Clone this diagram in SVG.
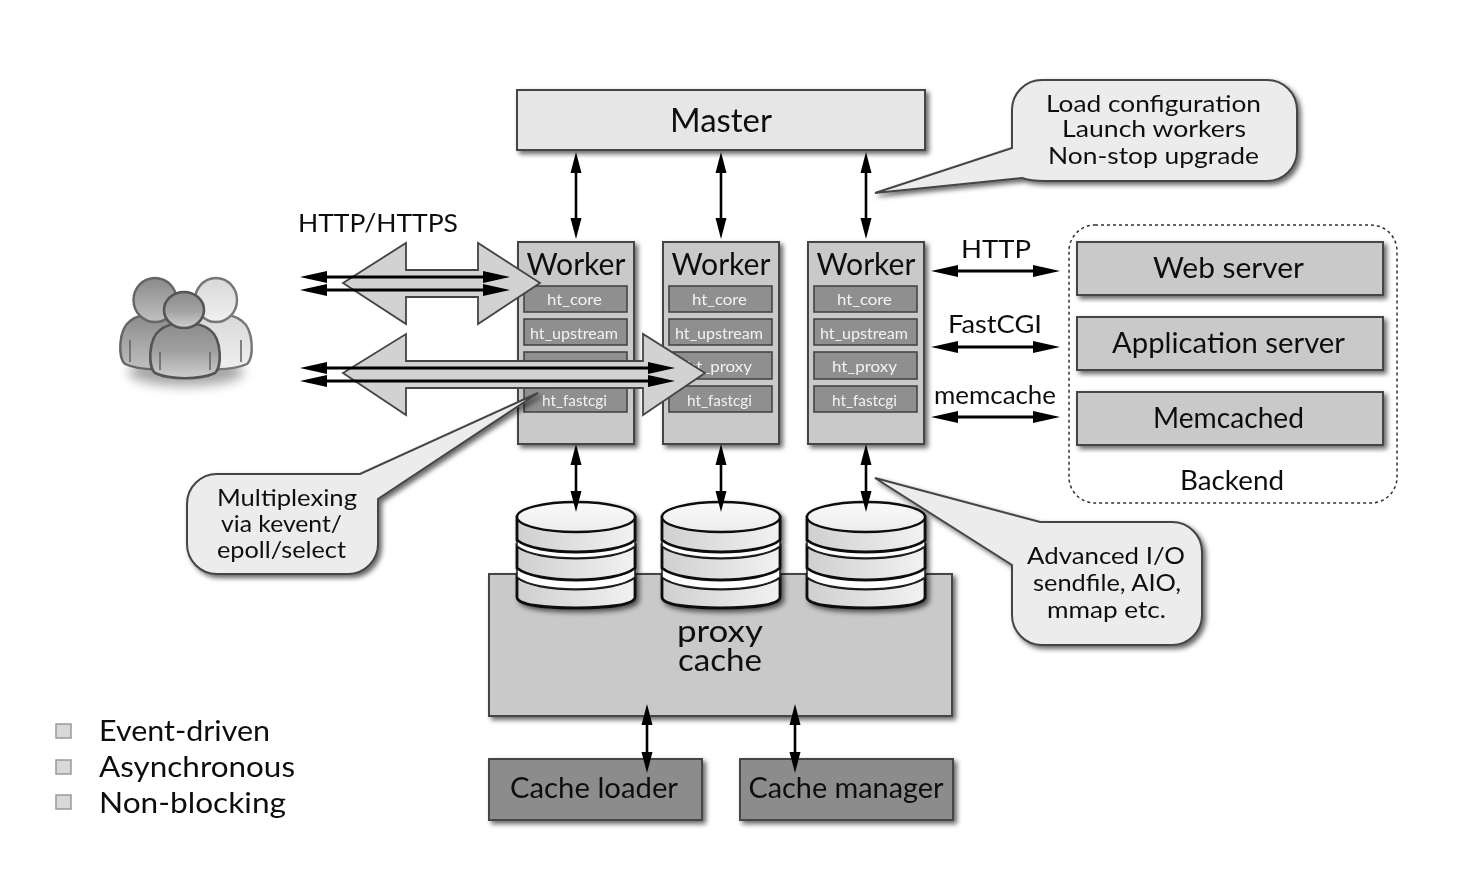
<svg xmlns="http://www.w3.org/2000/svg" width="1481" height="886" viewBox="0 0 1481 886">
<style>
text{font-family:"Lato","Open Sans","Liberation Sans",sans-serif;fill:#111;text-anchor:middle}
.box{stroke:#444;stroke-width:2}
.sh{filter:url(#ds)}
.light{fill:#e6e6e6}.mid{fill:#c9c9c9}.dark{fill:#8c8c8c}
.mod{fill:#8f8f8f;stroke:#444;stroke-width:1.6}
.modt{fill:#f2f2f2;font-size:15.5px}
.wt{font-size:30px}
.be{font-size:28px}
.call{fill:#ececec;stroke:#444;stroke-width:2;filter:url(#ds)}
.ct{font-size:23.5px}
.lab{font-size:25px}
.ar{stroke:#000;stroke-width:2.6;fill:none;marker-start:url(#h);marker-end:url(#h)}
.thin{stroke:#000;stroke-width:3;fill:none;marker-start:url(#h2);marker-end:url(#h2)}
.big{fill:#d2d2d2;stroke:#444;stroke-width:1.8}
.leg{fill:#d8d8d8;stroke:#999;stroke-width:1.5}
.lt{font-size:29px;text-anchor:start}
.disk{fill:url(#dg);stroke:#111;stroke-width:2.8}
.gap{fill:#fff;stroke:#222;stroke-width:1.6}
.crease{fill:none;stroke:#666;stroke-width:1.6}
</style>
<defs>
<filter id="ds" x="-10%" y="-10%" width="125%" height="125%"><feDropShadow dx="3" dy="3" stdDeviation="2.5" flood-color="#000" flood-opacity=".6"/></filter>
<filter id="soft" x="0" y="0" width="1481" height="886" filterUnits="userSpaceOnUse"><feGaussianBlur stdDeviation=".6"/></filter>
<filter id="bl" x="-30%" y="-60%" width="160%" height="220%"><feGaussianBlur stdDeviation="6"/></filter>
<marker id="h" markerUnits="userSpaceOnUse" markerWidth="22" markerHeight="12" refX="0" refY="6" orient="auto-start-reverse"><path d="M0,0.500 L21,6 L0,11.500Z"/></marker>
<marker id="h2" markerUnits="userSpaceOnUse" markerWidth="30" markerHeight="14" refX="0" refY="7" orient="auto-start-reverse"><path d="M0,1 L27,7 L0,13Z"/></marker>
<linearGradient id="dg"><stop offset="0" stop-color="#cfcfcf"/><stop offset="1" stop-color="#f2f2f2"/></linearGradient>
<linearGradient id="dt" x1="0" x2="0" y1="0" y2="1"><stop offset="0" stop-color="#fafafa"/><stop offset="1" stop-color="#ececec"/></linearGradient>
<linearGradient id="pa" x1="0" x2="0" y1="0" y2="1"><stop offset="0" stop-color="#8a8a8a"/><stop offset="1" stop-color="#c0c0c0"/></linearGradient>
<linearGradient id="pb" x1="0" x2="0" y1="0" y2="1"><stop offset="0" stop-color="#8c8c8c"/><stop offset=".5" stop-color="#a0a0a0"/><stop offset="1" stop-color="#cfcfcf"/></linearGradient>
<linearGradient id="pc" x1="0" x2="0" y1="0" y2="1"><stop offset="0" stop-color="#d8d8d8"/><stop offset="1" stop-color="#f0f0f0"/></linearGradient>
<g id="disk">
<path class="disk" d="M-59,-24 C-40,-8 40,-8 59,-24 V-4 C59,4 30,7 0,7 C-30,7 -59,4 -59,-4Z"/>
<path class="gap" d="M-59,-33 C-40,-17 40,-17 59,-33 V-24 C40,-8 -40,-8 -59,-24Z"/>
<path class="disk" d="M-59,-55 C-40,-39 40,-39 59,-55 V-33 C40,-17 -40,-17 -59,-33Z"/>
<path class="gap" d="M-59,-61 C-40,-45 40,-45 59,-61 V-55 C40,-39 -40,-39 -59,-55Z"/>
<path class="disk" d="M-59,-84 H59 V-61 C40,-45 -40,-45 -59,-61Z"/>
<ellipse cx="0" cy="-84" rx="59" ry="15" fill="url(#dt)" stroke="#111" stroke-width="2.4"/>
</g>
<path id="body" d="M-30,66 C-37,60 -37,32 -25,23 C-15,14 15,14 25,23 C37,32 37,60 30,66 C15,73 -15,73 -30,66Z"/>
</defs>
<rect width="1481" height="886" fill="#fff"/>
<g filter="url(#soft)">
<g id="users">
<ellipse cx="186" cy="372" rx="58" ry="14" fill="#000" opacity=".35" filter="url(#bl)"/>
<g id="user-right" stroke="#777" stroke-width="2.4" fill="url(#pc)"><use href="#body" x="217" y="298"/><ellipse cx="216" cy="300" rx="21" ry="22"/><path class="crease" d="M241,340 V362"/></g>
<g id="user-left" stroke="#666" stroke-width="2.4" fill="url(#pa)"><use href="#body" x="155" y="298"/><ellipse cx="155" cy="300" rx="21.500" ry="22"/><path class="crease" d="M130,340 V362"/></g>
<g id="user-front" stroke="#555" stroke-width="2.600" fill="url(#pb)"><use href="#body" x="185" y="307"/><ellipse cx="184" cy="310" rx="20" ry="18"/><path class="crease" d="M160,352 V370M210,352 V370"/></g>
</g>
<g id="master"><rect class="box light sh" x="517" y="90" width="408" height="60"/><text x="721" y="132" font-size="33" textLength="102" lengthAdjust="spacingAndGlyphs">Master</text></g>
<g id="worker1"><rect class="box mid sh" x="518" y="242" width="116" height="202"/><text class="wt" x="576" y="275" textLength="99" lengthAdjust="spacingAndGlyphs">Worker</text>
<rect class="mod" x="524" y="286" width="103" height="26"/><text class="modt" x="574.500" y="305" textLength="55" lengthAdjust="spacingAndGlyphs">ht_core</text>
<rect class="mod" x="524" y="319" width="103" height="26"/><text class="modt" x="574" y="339" textLength="88" lengthAdjust="spacingAndGlyphs">ht_upstream</text>
<rect class="mod" x="524" y="352" width="103" height="27"/><text class="modt" x="575" y="372" textLength="65" lengthAdjust="spacingAndGlyphs">ht_proxy</text>
<rect class="mod" x="524" y="386" width="103" height="26"/><text class="modt" x="574.500" y="406" textLength="65" lengthAdjust="spacingAndGlyphs">ht_fastcgi</text></g>
<g id="worker2"><rect class="box mid sh" x="663" y="242" width="116" height="202"/><text class="wt" x="721" y="275" textLength="99" lengthAdjust="spacingAndGlyphs">Worker</text>
<rect class="mod" x="669" y="286" width="103" height="26"/><text class="modt" x="719.500" y="305" textLength="55" lengthAdjust="spacingAndGlyphs">ht_core</text>
<rect class="mod" x="669" y="319" width="103" height="26"/><text class="modt" x="719" y="339" textLength="88" lengthAdjust="spacingAndGlyphs">ht_upstream</text>
<rect class="mod" x="669" y="352" width="103" height="27"/><text class="modt" x="719.500" y="372" textLength="65" lengthAdjust="spacingAndGlyphs">ht_proxy</text>
<rect class="mod" x="669" y="386" width="103" height="26"/><text class="modt" x="719.500" y="406" textLength="65" lengthAdjust="spacingAndGlyphs">ht_fastcgi</text></g>
<g id="worker3"><rect class="box mid sh" x="808" y="242" width="116" height="202"/><text class="wt" x="866" y="275" textLength="99" lengthAdjust="spacingAndGlyphs">Worker</text>
<rect class="mod" x="814" y="286" width="103" height="26"/><text class="modt" x="864.500" y="305" textLength="55" lengthAdjust="spacingAndGlyphs">ht_core</text>
<rect class="mod" x="814" y="319" width="103" height="26"/><text class="modt" x="864" y="339" textLength="88" lengthAdjust="spacingAndGlyphs">ht_upstream</text>
<rect class="mod" x="814" y="352" width="103" height="27"/><text class="modt" x="864.500" y="372" textLength="65" lengthAdjust="spacingAndGlyphs">ht_proxy</text>
<rect class="mod" x="814" y="386" width="103" height="26"/><text class="modt" x="864.500" y="406" textLength="65" lengthAdjust="spacingAndGlyphs">ht_fastcgi</text></g>
<g id="proxy-cache"><rect class="box mid sh" x="489" y="574" width="463" height="142"/><text x="720" y="642" font-size="30" textLength="86" lengthAdjust="spacingAndGlyphs">proxy</text><text x="720" y="671" font-size="30" textLength="84" lengthAdjust="spacingAndGlyphs">cache</text></g>
<g id="disk1" class="sh"><use href="#disk" x="576" y="601"/></g>
<g id="disk2" class="sh"><use href="#disk" x="721" y="601"/></g>
<g id="disk3" class="sh"><use href="#disk" x="866" y="601"/></g>
<g id="cache-loader"><rect class="box dark sh" x="489" y="759" width="213" height="61"/><text x="594" y="798" font-size="29" textLength="168" lengthAdjust="spacingAndGlyphs">Cache loader</text></g>
<g id="cache-manager"><rect class="box dark sh" x="740" y="759" width="213" height="61"/><text x="846" y="798" font-size="29" textLength="195" lengthAdjust="spacingAndGlyphs">Cache manager</text></g>
<g id="backend"><rect x="1069" y="225" width="328" height="278" rx="26" fill="#fff" stroke="#333" stroke-width="1.500" stroke-dasharray="3 3"/><text x="1232" y="490" font-size="27" textLength="104" lengthAdjust="spacingAndGlyphs">Backend</text></g>
<g id="web-server"><rect class="box mid sh" x="1077" y="242" width="306" height="53"/><text class="be" x="1228.500" y="278" textLength="151" lengthAdjust="spacingAndGlyphs">Web server</text></g>
<g id="application-server"><rect class="box mid sh" x="1077" y="317" width="306" height="53"/><text class="be" x="1228.500" y="353" textLength="233" lengthAdjust="spacingAndGlyphs">Application server</text></g>
<g id="memcached"><rect class="box mid sh" x="1077" y="392" width="306" height="53"/><text class="be" x="1228.500" y="428" textLength="151" lengthAdjust="spacingAndGlyphs">Memcached</text></g>
<g id="connectors">
<path class="big" d="M343,283 L406,243 V270 H478 V243 L540,283 L478,324 V297 H406 V324Z"/>
<path class="big" d="M343,373 L406,334 V361 H643 V334 L705,373 L643,415 V388 H406 V415Z"/>
<path class="thin" d="M327,277 H483"/><path class="thin" d="M327,290 H483"/>
<path class="thin" d="M327,368 H648"/><path class="thin" d="M327,381 H648"/>
<path class="ar" d="M576,173 V218"/><path class="ar" d="M721,173 V218"/><path class="ar" d="M866,173 V218"/>
<path class="ar" d="M576,465 V491"/><path class="ar" d="M721,465 V491"/><path class="ar" d="M866,465 V491"/>
<path class="ar" d="M647,725 V752"/><path class="ar" d="M795,725 V752"/>
<path class="thin" d="M958,271 H1033"/><path class="thin" d="M958,347 H1033"/><path class="thin" d="M958,417 H1033"/>
</g>
<text class="lab" x="378" y="232" textLength="160" lengthAdjust="spacingAndGlyphs">HTTP/HTTPS</text>
<text class="lab" x="996" y="258" textLength="70" lengthAdjust="spacingAndGlyphs">HTTP</text>
<text class="lab" x="995" y="333" textLength="94" lengthAdjust="spacingAndGlyphs">FastCGI</text>
<text class="lab" x="995" y="404" textLength="122" lengthAdjust="spacingAndGlyphs">memcache</text>
<g id="callout-master"><path class="call" d="M1042,80 H1267 A30,30 0 0 1 1297,110 V151 A30,30 0 0 1 1267,181 H1045 Q1030,181 1022,178 L875,193 L1012,148 V110 A30,30 0 0 1 1042,80Z"/>
<text class="ct" x="1153.500" y="112" textLength="215" lengthAdjust="spacingAndGlyphs">Load configuration</text><text class="ct" x="1154" y="137" textLength="184" lengthAdjust="spacingAndGlyphs">Launch workers</text><text class="ct" x="1153.500" y="164" textLength="211" lengthAdjust="spacingAndGlyphs">Non-stop upgrade</text></g>
<g id="callout-multiplex"><path class="call" d="M217,474 H360 L538,393 L378,499 V544 A30,30 0 0 1 348,574 H217 A30,30 0 0 1 187,544 V504 A30,30 0 0 1 217,474Z"/>
<text class="ct" x="287" y="506" textLength="140" lengthAdjust="spacingAndGlyphs">Multiplexing</text><text class="ct" x="281.500" y="532" textLength="121" lengthAdjust="spacingAndGlyphs">via kevent/</text><text class="ct" x="281.500" y="558" textLength="129" lengthAdjust="spacingAndGlyphs">epoll/select</text></g>
<g id="callout-io"><path class="call" d="M1042,522 H1172 A30,30 0 0 1 1202,552 V615 A30,30 0 0 1 1172,645 H1042 A30,30 0 0 1 1012,615 V565 L875,478 L1040,522Z"/>
<text class="ct" x="1106" y="564" textLength="158" lengthAdjust="spacingAndGlyphs">Advanced I/O</text><text class="ct" x="1107" y="591" textLength="148" lengthAdjust="spacingAndGlyphs">sendfile, AIO,</text><text class="ct" x="1106.500" y="618" textLength="119" lengthAdjust="spacingAndGlyphs">mmap etc.</text></g>
<g id="legend">
<rect class="leg" x="56" y="724" width="15" height="14"/><text class="lt" x="99" y="741" textLength="171" lengthAdjust="spacingAndGlyphs">Event-driven</text>
<rect class="leg" x="56" y="760" width="15" height="14"/><text class="lt" x="99" y="777" textLength="196" lengthAdjust="spacingAndGlyphs">Asynchronous</text>
<rect class="leg" x="56" y="795" width="15" height="14"/><text class="lt" x="99" y="813" textLength="187" lengthAdjust="spacingAndGlyphs">Non-blocking</text>
</g>
</g>
</svg>
